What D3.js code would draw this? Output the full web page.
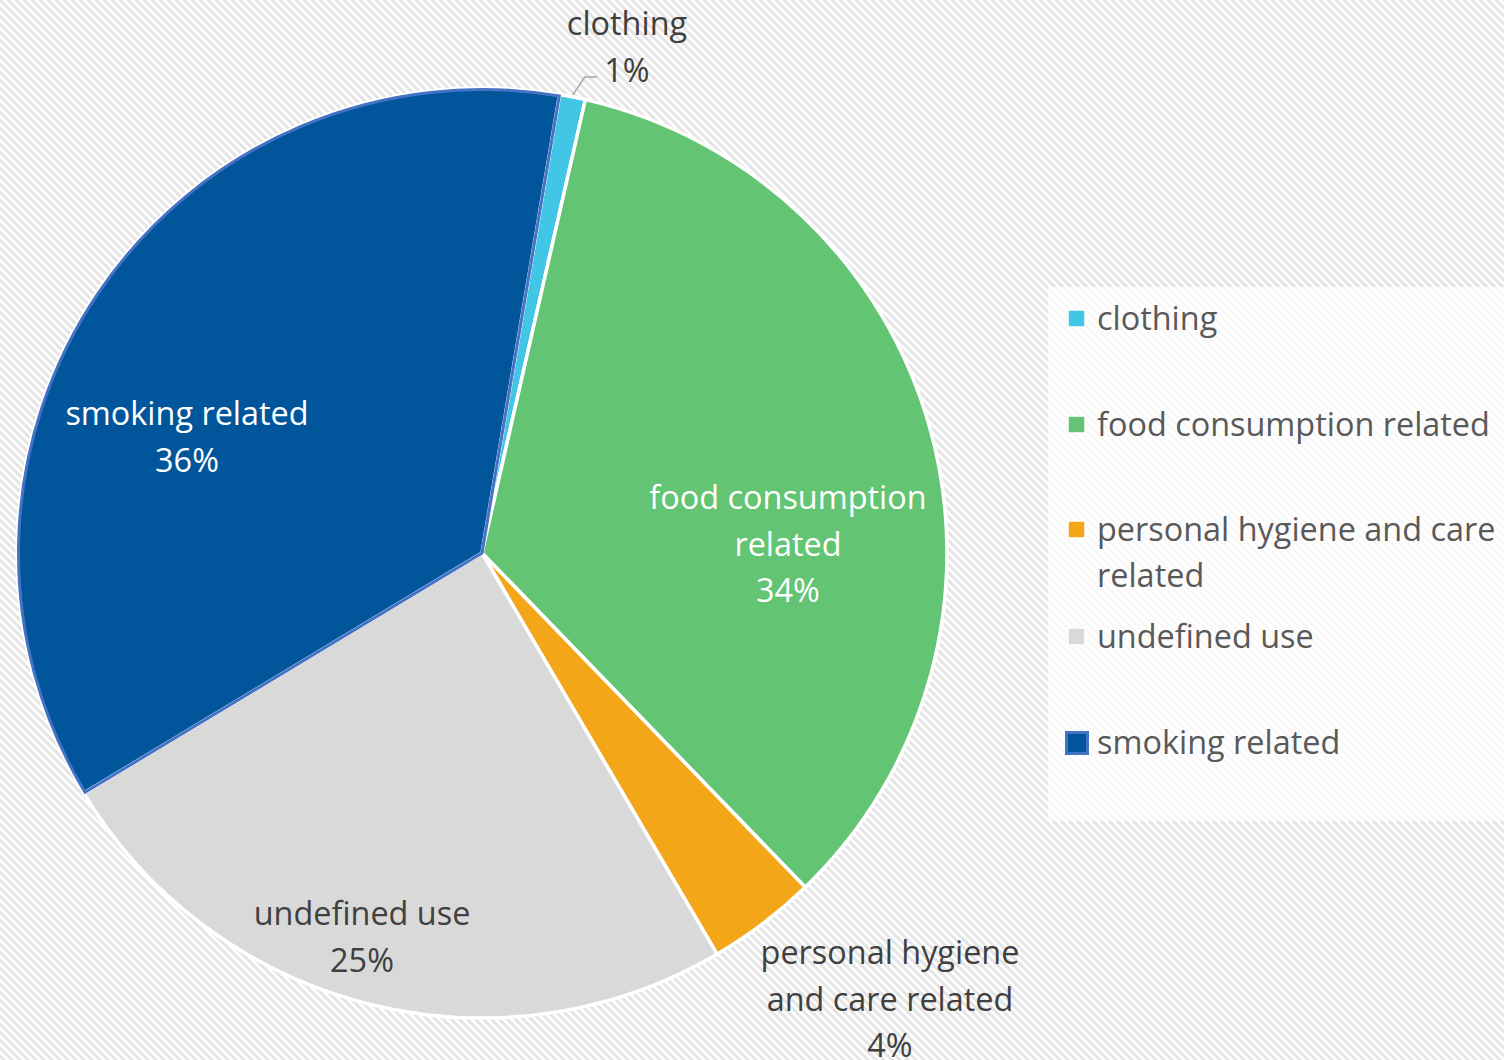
<!DOCTYPE html>
<html><head><meta charset="utf-8">
<script src="https://cdn.jsdelivr.net/npm/d3@7"></script>
<style>html,body{margin:0;padding:0;background:#fff;}svg{display:block;}</style>
</head><body>
<svg id="chart" width="1504" height="1060"></svg>
<script>
const categories = ["clothing", "food consumption related", "personal hygiene and care related", "undefined use", "smoking related"];
const values = [0.9, 34.2, 3.8, 24.8, 36.3];
const percentLabels = ["1%", "34%", "4%", "25%", "36%"];
const colors = ["#41C6E6", "#63C473", "#F4A619", "#D9D9D9", "#00559B"];
const sliceLabelLines = [["clothing"], ["food consumption", "related"], ["personal hygiene", "and care related"], ["undefined use"], ["smoking related"]];
const legendLines = [["clothing"], ["food consumption related"], ["personal hygiene and care", "related"], ["undefined use"], ["smoking related"]];

const W = 1504, H = 1060;
const cx = 482, cy = 553, R = 465;
const startDeg = 9.6;
const FONT = "'Open Sans', sans-serif";

const svg = d3.select("#chart");
const defs = svg.append("defs");
const pat = defs.append("pattern").attr("id", "hatch").attr("patternUnits", "userSpaceOnUse")
  .attr("width", 8).attr("height", 8);
pat.append("rect").attr("width", 8).attr("height", 8).attr("fill", "#ffffff");
pat.append("path").attr("d", "M-2,-2 L10,10 M-2,6 L2,10 M6,-2 L10,2")
  .attr("stroke", "#e4e4e4").attr("stroke-width", 3);

svg.append("rect").attr("width", W).attr("height", H).attr("fill", "url(#hatch)");

// legend background
svg.append("rect").attr("x", 1048).attr("y", 287).attr("width", 456).attr("height", 534)
  .attr("fill", "#ffffff").attr("opacity", 0.72);

// measure font size to fit widths (Calibri-like proportions)
const probe = svg.append("text").attr("font-family", FONT).attr("font-size", 100).text("food consumption related");
const wProbe = probe.node().getComputedTextLength();
probe.remove();
const FS = Math.min(34, 100 * 393 / wProbe);

const pie = d3.pie().sort(null).value(d => d)
  .startAngle(startDeg * Math.PI / 180).endAngle((startDeg + 360) * Math.PI / 180);
const arcs = pie(values);
const arc = d3.arc().innerRadius(0).outerRadius(R);

const g = svg.append("g").attr("transform", `translate(${cx},${cy})`);
g.selectAll("path.slice").data(arcs).join("path").attr("class", "slice")
  .attr("d", arc)
  .attr("fill", (d, i) => colors[i])
  .attr("stroke", "#ffffff").attr("stroke-width", 3.5).attr("stroke-linejoin", "round");
// smoking slice outline
g.append("path").datum(arcs[4]).attr("d", d3.arc().innerRadius(0).outerRadius(R - 1.5))
  .attr("fill", "none").attr("stroke", "#4472C4").attr("stroke-width", 3);

// label placement (layout, relative to pie center)
const labelOffsets = [[145, -518], [306, -44], [408, 411], [-120, 372], [-295, -128]];
const labelColors = ["#404040", "#ffffff", "#404040", "#404040", "#ffffff"];
const LH = FS * 1.44;
arcs.forEach((a, i) => {
  const lines = sliceLabelLines[i].concat([percentLabels[i]]);
  const t = g.append("text").attr("font-family", FONT).attr("font-size", FS)
    .attr("fill", labelColors[i]).attr("text-anchor", "middle");
  lines.forEach((ln, j) => {
    t.append("tspan").attr("x", labelOffsets[i][0]).attr("y", labelOffsets[i][1] + j * LH).text(ln);
  });
});
// leader line for clothing
const mid0 = (arcs[0].startAngle + arcs[0].endAngle) / 2;
const px = Math.sin(mid0) * (R + 2), py = -Math.cos(mid0) * (R + 2);
g.append("path").attr("d", `M${px},${py} L${px + 12},${py - 18} L${px + 24},${py - 18}`)
  .attr("fill", "none").attr("stroke", "#a6a6a6").attr("stroke-width", 1.5);

// legend
const legendY = [330, 436, 541, 648, 754];
const leg = svg.append("g");
categories.forEach((c, i) => {
  const y = legendY[i];
  if (i === 4) {
    leg.append("rect").attr("x", 1066.5).attr("y", y - 21.5).attr("width", 21).attr("height", 21)
      .attr("fill", colors[i]).attr("stroke", "#4472C4").attr("stroke-width", 3);
  } else {
    leg.append("rect").attr("x", 1068).attr("y", y - 20).attr("width", 17).attr("height", 17)
      .attr("fill", colors[i]).attr("stroke", "#ffffff").attr("stroke-width", 1.5);
  }
  const t = leg.append("text").attr("font-family", FONT).attr("font-size", FS).attr("fill", "#595959");
  legendLines[i].forEach((ln, j) => {
    t.append("tspan").attr("x", 1097).attr("y", y + j * 46).text(ln);
  });
});
</script>
</body></html>
